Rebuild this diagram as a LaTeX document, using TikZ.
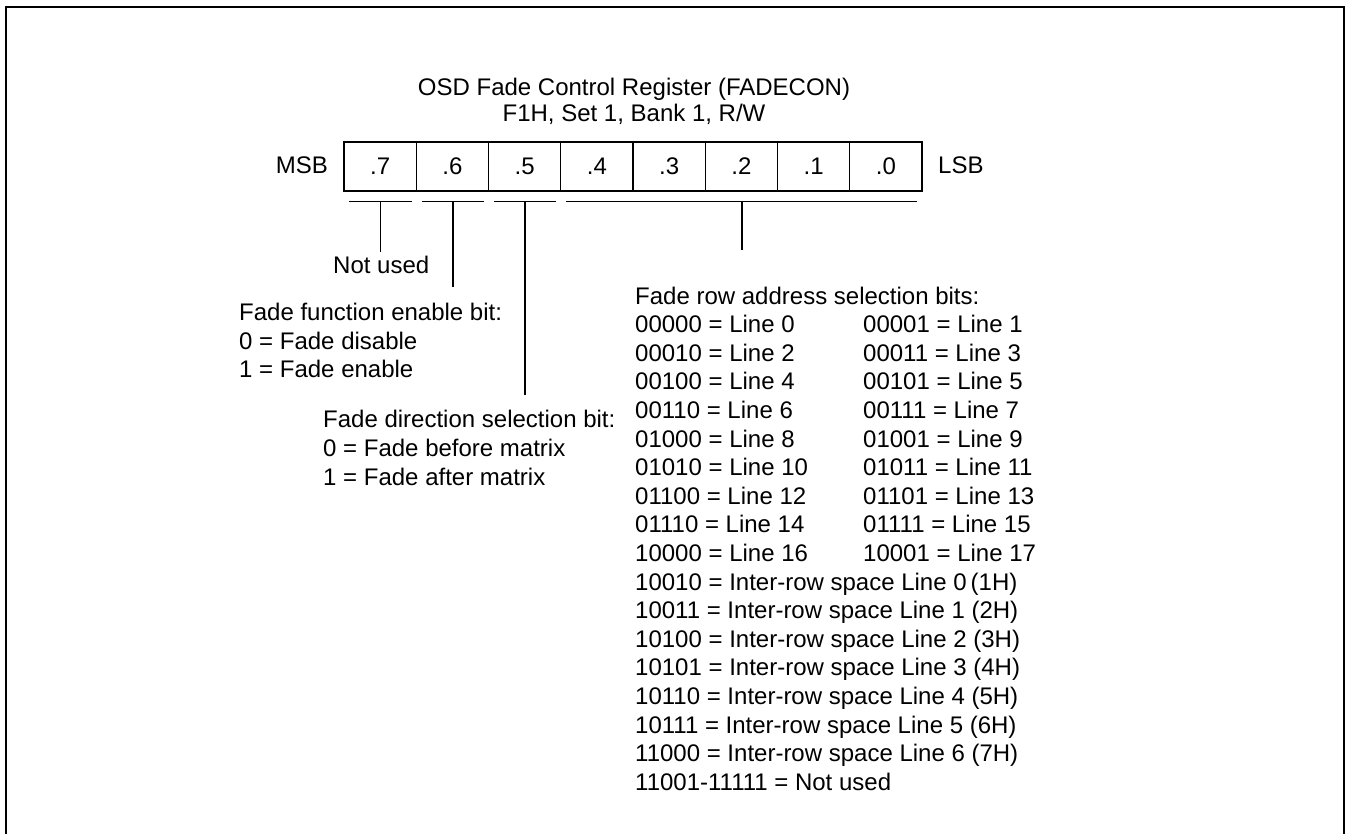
\documentclass[tikz,border=0pt]{standalone}
\usepackage{fontspec}
\setmainfont{Liberation Sans}
\usetikzlibrary{calc}
\tikzset{
  txt/.style={inner sep=0pt, font=\fontsize{24}{28}\selectfont},
  cell/.style={draw, line width=1.4pt, minimum width=72.25pt, minimum height=49pt, inner sep=0pt, font=\fontsize{24}{28}\selectfont},
  frameline/.style={line width=2.6pt},
  conn/.style={line width=1.4pt}
}
\begin{document}
\begin{tikzpicture}[x=1pt,y=-1pt]
\useasboundingbox (0,0) rectangle (1346,834);
\draw[frameline] (6,834) -- (6,7) -- (1344,7) -- (1344,834);

% title
\node[txt, anchor=base] (t1) at (634,96) {OSD Fade Control Register (FADECON)};
\node[txt, anchor=base] (t2) at (634,122) {F1H, Set 1, Bank 1, R/W};

% register cells
\foreach \i [count=\k from 0] in {7,6,5,4,3,2,1,0}{
  \node[cell] (b\i) at ({344+72.25*\k+36.125},166.5) {.\i};
}
\node[txt, anchor=base east] (msb) at (328,174) {MSB};
\node[txt, anchor=base west] (lsb) at (938,174) {LSB};

% underlines
\coordinate (u7l) at ([xshift=6pt,yshift=-10pt]b7.south west);
\coordinate (u7r) at ([xshift=-5pt,yshift=-10pt]b7.south east);
\coordinate (u6l) at ([xshift=6pt,yshift=-10pt]b6.south west);
\coordinate (u6r) at ([xshift=-5pt,yshift=-10pt]b6.south east);
\coordinate (u5l) at ([xshift=6pt,yshift=-10pt]b5.south west);
\coordinate (u5r) at ([xshift=-5pt,yshift=-10pt]b5.south east);
\coordinate (u4l) at ([xshift=6pt,yshift=-10pt]b4.south west);
\coordinate (u0r) at ([xshift=-6pt,yshift=-10pt]b0.south east);
\draw[conn] (u7l) -- (u7r);
\draw[conn] (u6l) -- (u6r);
\draw[conn] (u5l) -- (u5r);
\draw[conn] (u4l) -- (u0r);

\coordinate (m7) at ($(u7l)!0.5!(u7r)$);
\coordinate (m6) at ($(u6l)!0.5!(u6r)$);
\coordinate (m5) at ($(u5l)!0.5!(u5r)$);
\coordinate (m40) at (742,201);
\coordinate (e7) at (381,252);
\coordinate (e6) at (453,287);
\coordinate (e5) at (525,395);
\coordinate (e40) at (742,250);
\draw[conn] (m7) -- (m7 |- e7);
\draw[conn] (m6) -- (m6 |- e6);
\draw[conn] (m5) -- (m5 |- e5);
\draw[conn] (m40) -- (e40);

% left descriptions
\node[txt, anchor=base west] (nu) at (333,273) {Not used};
\node[txt, anchor=base west] (ff) at (239,320) {Fade function enable bit:};
\node[txt, anchor=base west] (ff0) at (239,349) {0 = Fade disable};
\node[txt, anchor=base west] (ff1) at (239,377) {1 = Fade enable};
\node[txt, anchor=base west] (fd) at (323,427) {Fade direction selection bit:};
\node[txt, anchor=base west] (fd0) at (323,456) {0 = Fade before matrix};
\node[txt, anchor=base west] (fd1) at (323,485) {1 = Fade after matrix};

% right description
\node[txt, anchor=base west] (fr) at (635,304) {Fade row address selection bits:};
\foreach \a/\b [count=\r] in {00000 = Line 0/00001 = Line 1, 00010 = Line 2/00011 = Line 3,
  00100 = Line 4/00101 = Line 5, 00110 = Line 6/00111 = Line 7, 01000 = Line 8/01001 = Line 9,
  01010 = Line 10/01011 = Line 11, 01100 = Line 12/01101 = Line 13, 01110 = Line 14/01111 = Line 15,
  10000 = Line 16/10001 = Line 17}{
  \node[txt, anchor=base west] (ra\r) at (635,{304+28.6*\r}) {\a};
  \node[txt, anchor=base west] (rb\r) at (863,{304+28.6*\r}) {\b};
}
\foreach \a [count=\r from 10] in {10010 = Inter-row space Line 0\,(1H), 10011 = Inter-row space Line 1 (2H),
  10100 = Inter-row space Line 2 (3H), 10101 = Inter-row space Line 3 (4H),
  10110 = Inter-row space Line 4 (5H), 10111 = Inter-row space Line 5 (6H),
  11000 = Inter-row space Line 6 (7H), 11001-11111 = Not used}{
  \node[txt, anchor=base west] (rc\r) at (635,{304+28.6*\r}) {\a};
}
\end{tikzpicture}
\end{document}
